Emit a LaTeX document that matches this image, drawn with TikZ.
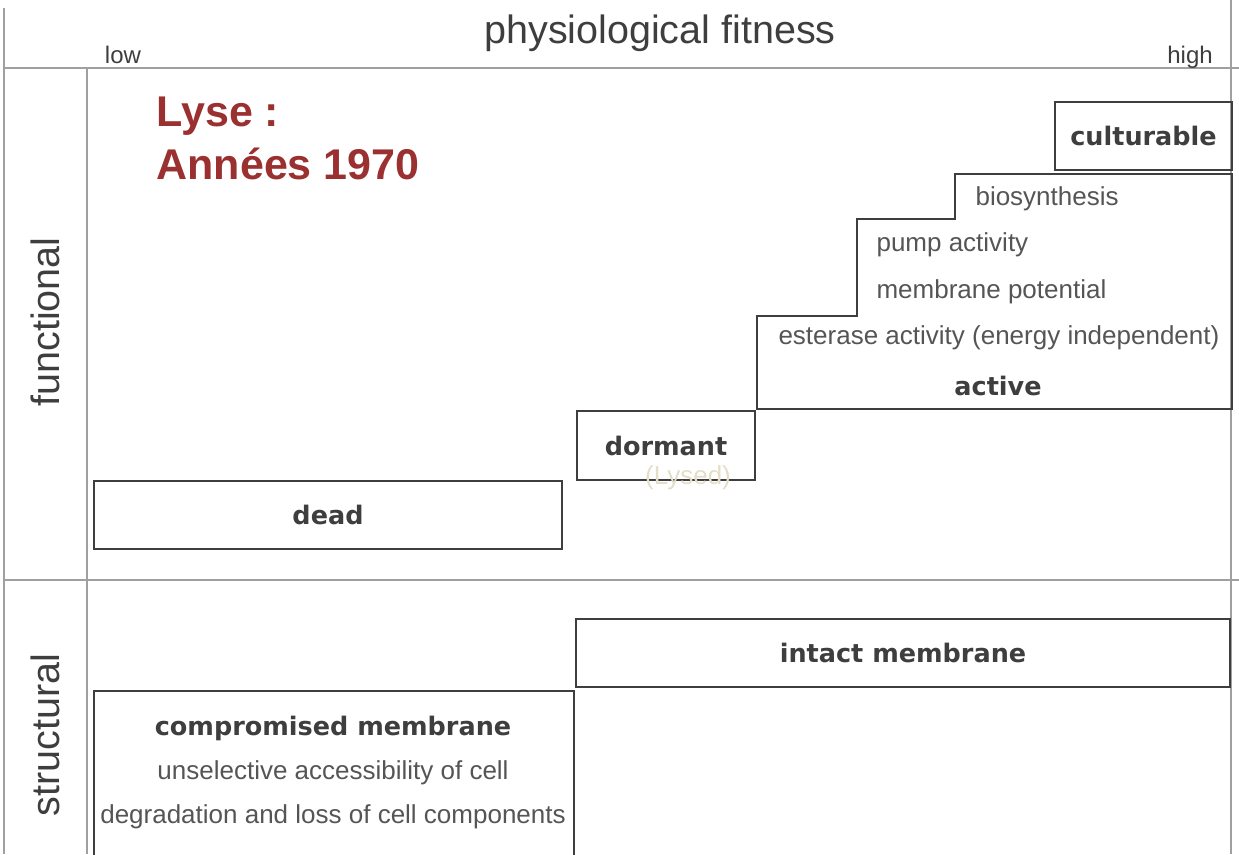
\documentclass[tikz,border=0pt]{standalone}
\usepackage{fontspec}
\setmainfont{Liberation Sans}
\newfontfamily\labelfont{DejaVu Sans}
\usetikzlibrary{positioning}

\definecolor{lysered}{RGB}{155,48,48}
\definecolor{inkgray}{RGB}{62,62,62}
\definecolor{textgray}{RGB}{85,85,85}
\definecolor{framegray}{RGB}{160,160,160}
\definecolor{lysedbeige}{RGB}{228,222,200}

\tikzset{
  framerule/.style={draw=framegray, line width=1.3pt},
  statebox/.style={draw=inkgray, line width=2.6pt, rectangle, inner sep=0pt},
  statelabel/.style={text=inkgray, font=\labelfont\bfseries\fontsize{25.5}{30}\selectfont},
  traitlabel/.style={text=textgray, font=\fontsize{26}{30}\selectfont},
  axislabel/.style={text=inkgray, font=\fontsize{39.5}{44}\selectfont},
  endlabel/.style={text=inkgray, font=\fontsize{24}{28}\selectfont},
  lyselabel/.style={text=lysered, anchor=west, font=\bfseries\fontsize{43}{48}\selectfont},
}

\begin{document}
\begin{tikzpicture}[x=1pt,y=-1pt]
    \useasboundingbox (0,0) rectangle (1239,854);

    % frame
    \draw[framerule] (4,8) -- (4,854);
    \draw[framerule] (1231,0) -- (1231,854);
    \draw[framerule] (4,68) -- (1239,68);
    \draw[framerule] (87,68) -- (87,854);
    \draw[framerule] (4,580) -- (1239,580);

    \node[axislabel] (fitness) at (660,33) {physiological fitness};
    \node[endlabel] (low) at (123,55) {low};
    \node[endlabel] (high) at (1190,57) {high};
    \node[axislabel, rotate=90] (functional) at (45,322) {functional};
    \node[axislabel, rotate=90] (structural) at (45,735) {structural};

    \node[lyselabel] (lyse) at (153,116) {Lyse :};
    \node[lyselabel] (annees) at (153,164) {Années 1970};

    % functional states
    \node[statebox, statelabel, minimum width=468pt, minimum height=68pt] (dead) at (328,515) {dead};
    \node[statebox, statelabel, minimum width=178pt, minimum height=69pt] (dormant) at (666,445.5) {dormant};
    \node[text=lysedbeige, font=\fontsize{26}{30}\selectfont] (lysed) at (688,478) {(Lysed)};

    \draw[draw=inkgray, line width=2.6pt] (757,409) -- (757,316) -- (857,316) -- (857,219)
        -- (955,219) -- (955,174) -- (1232,174) -- (1232,409) -- cycle;
    \node[statebox, statelabel, minimum width=177pt, minimum height=68pt] (culturable) at (1143.5,136) {culturable};
    \node[traitlabel, anchor=west] (biosynthesis) at (972,199) {biosynthesis};
    \node[traitlabel, anchor=west] (pump) at (873,245) {pump activity};
    \node[traitlabel, anchor=west] (potential) at (873,292) {membrane potential};
    \node[traitlabel, anchor=west] (esterase) at (775,338) {esterase activity (energy independent)};
    \node[statelabel] (active) at (998,386) {active};

    % structural states
    \node[statebox, statelabel, minimum width=654pt, minimum height=68pt] (intact) at (903,653) {intact membrane};
    \draw[draw=inkgray, line width=2.6pt] (94,860) -- (94,691) -- (574,691) -- (574,860);
    \node[statelabel] (compromised) at (333,728) {compromised membrane};
    \node[traitlabel] (unselective) at (333,773) {unselective accessibility of cell};
    \node[traitlabel] (degradation) at (333,817) {degradation and loss of cell components};
\end{tikzpicture}
\end{document}
